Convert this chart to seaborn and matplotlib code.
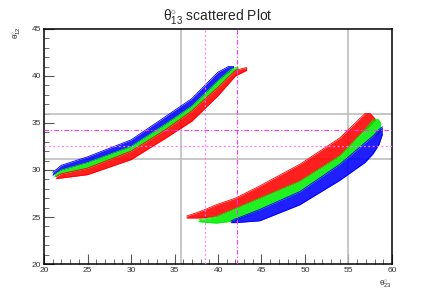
import numpy as np
import matplotlib
matplotlib.use("Agg")
import matplotlib.pyplot as plt
from matplotlib.ticker import MultipleLocator
import seaborn as sns
import pandas as pd

# upper-left branch: x, lower edge, upper edge of each coloured band
blue_a_x = [21.0, 22.0, 25.0, 30.0, 34.0, 37.0, 40.0, 41.2, 41.8]
blue_a_lo = [29.45, 30.0, 30.8, 32.5, 34.9, 36.8, 39.5, 40.4, 40.9]
blue_a_hi = [29.75, 30.5, 31.4, 33.2, 35.7, 37.6, 40.4, 41.0, 41.0]

green_a_x = [21.2, 22.0, 25.0, 30.0, 34.0, 37.0, 40.0, 41.5, 42.3]
green_a_lo = [29.3, 29.6, 30.2, 32.0, 34.3, 36.3, 38.8, 40.2, 40.8]
green_a_hi = [29.5, 30.0, 30.8, 32.5, 34.9, 36.8, 39.5, 40.7, 41.0]

red_a_x = [21.4, 22.0, 25.0, 30.0, 34.0, 37.0, 40.0, 42.0, 43.3]
red_a_lo = [29.1, 29.15, 29.5, 31.1, 33.4, 35.2, 37.9, 40.0, 40.6]
red_a_hi = [29.3, 29.6, 30.2, 32.0, 34.3, 36.3, 38.8, 40.6, 40.9]

# lower-right branch
red_b_x = [36.4, 38.0, 39.8, 42.0, 44.8, 49.4, 54.0, 56.9, 57.5, 58.1]
red_b_lo = [24.9, 24.9, 25.05, 25.9, 27.0, 28.8, 31.5, 34.3, 34.7, 35.3]
red_b_hi = [25.1, 25.6, 26.3, 27.0, 28.3, 30.6, 33.4, 36.0, 36.0, 35.4]

green_b_x = [37.8, 39.8, 42.0, 44.8, 49.4, 54.0, 56.9, 57.8, 58.4, 58.7]
green_b_lo = [24.5, 24.35, 24.6, 25.8, 27.7, 30.6, 32.9, 33.6, 33.8, 34.2]
green_b_hi = [24.7, 25.05, 25.9, 27.0, 28.8, 31.5, 34.3, 35.3, 35.4, 35.0]

blue_b_x = [41.5, 42.0, 44.8, 49.4, 54.0, 56.9, 57.8, 58.5, 58.9]
blue_b_lo = [24.4, 24.4, 24.6, 26.3, 28.9, 30.8, 31.7, 32.7, 33.8]
blue_b_hi = [24.6, 24.8, 25.8, 27.7, 30.6, 32.9, 33.6, 34.3, 34.6]

grid_x = [35.8, 55.0]
grid_y = [31.2, 35.9]
pink_x = [38.5]
pink_y = [32.6]
mag_x = [42.15]
mag_y = [34.2]

bands = [
    ("blue", blue_a_x, blue_a_lo, blue_a_hi),
    ("green", green_a_x, green_a_lo, green_a_hi),
    ("red", red_a_x, red_a_lo, red_a_hi),
    ("red", red_b_x, red_b_lo, red_b_hi),
    ("green", green_b_x, green_b_lo, green_b_hi),
    ("blue", blue_b_x, blue_b_lo, blue_b_hi),
]
colors = {"red": "#ff0000", "green": "#00ee00", "blue": "#0000ff"}

sns.set_style("ticks")
plt.rcParams['font.family'] = ['Liberation Sans', 'DejaVu Sans']
plt.rcParams['mathtext.fontset'] = 'custom'
plt.rcParams['mathtext.rm'] = 'Liberation Sans'
plt.rcParams['mathtext.it'] = 'Liberation Sans'

fig = plt.figure(figsize=(4.36, 2.95), dpi=100)
ax = fig.add_axes([0.101, 0.105, 0.798, 0.797])

for v in grid_x:
    ax.axvline(v, color="#bdbdbd", lw=1.2, zorder=1)
for h in grid_y:
    ax.axhline(h, color="#bdbdbd", lw=1.2, zorder=1)

for name, x, lo, hi in bands:
    c = colors[name]
    ax.fill_between(x, lo, hi, color=c, lw=0, alpha=0.88, zorder=2)
    edge = pd.DataFrame({"x": x + x, "y": lo + hi,
                         "side": ["lo"] * len(x) + ["hi"] * len(x)})
    sns.lineplot(data=edge, x="x", y="y", units="side", estimator=None,
                 color=c, lw=0.6, ax=ax, zorder=2, sort=False)

for v in pink_x:
    ax.axvline(v, color="#ff77ff", lw=0.9, ls=(0, (1.5, 2)), zorder=3)
for h in pink_y:
    ax.axhline(h, color="#ff77ff", lw=0.9, ls=(0, (1.5, 2)), zorder=3)
for v in mag_x:
    ax.axvline(v, color="#ff33ff", lw=0.8, ls=(0, (4, 2, 1, 2)), zorder=3)
for h in mag_y:
    ax.axhline(h, color="#ff33ff", lw=0.8, ls=(0, (4, 2, 1, 2)), zorder=3)

ax.set_xlim(20, 60)
ax.set_ylim(20, 45)
ax.xaxis.set_major_locator(MultipleLocator(5))
ax.xaxis.set_minor_locator(MultipleLocator(1))
ax.yaxis.set_major_locator(MultipleLocator(5))
ax.yaxis.set_minor_locator(MultipleLocator(1))
ax.tick_params(which="both", direction="in", colors="#555555", labelcolor="#333333",
               labelsize=6, pad=2)
ax.tick_params(which="major", length=7, width=0.8)
ax.tick_params(which="minor", length=3.5, width=0.6)
for s in ax.spines.values():
    s.set_color("black")
    s.set_linewidth(1.1)
ax.set_xlabel("")
ax.set_ylabel("")

fig.text(0.5, 0.945, r"θ$^{\circ}_{13}$ scattered Plot", ha="center",
         va="center", fontsize=10)
fig.text(0.885, 0.035, r"θ$^{\circ}_{23}$", ha="center", va="center",
         fontsize=6)
fig.text(0.04, 0.89, r"θ$^{\circ}_{12}$", ha="center", va="center",
         fontsize=6, rotation=90)

fig.savefig("out.png", dpi=100)
